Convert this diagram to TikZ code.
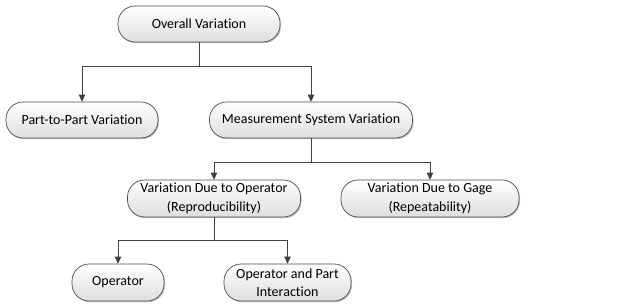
\documentclass[tikz,border=0pt]{standalone}
\usepackage{fontspec}
\setmainfont{Carlito}[Ligatures=NoCommon]
\usetikzlibrary{arrows.meta,shadows}
\begin{document}
\begin{tikzpicture}[x=1pt,y=-1pt,
  box/.style={draw=black!70, line width=0.7pt, rounded corners=17pt,
    top color=white, bottom color=black!13, minimum height=36pt,
    align=center, font=\fontsize{14}{18.5}\selectfont, inner sep=1pt,
    drop shadow={shadow xshift=1pt, shadow yshift=-1.2pt, opacity=0.25, fill=black}},
  conn/.style={draw=black!75, line width=0.9pt},
  arr/.style={conn, -{Triangle[length=7pt,width=6.5pt]}}]
\useasboundingbox (0,0) rectangle (621,305);
\node[box, minimum width=162pt] (ov) at (199,24) {Overall Variation};
\node[box, minimum width=152pt] (pp) at (82,120) {Part-to-Part Variation};
\node[box, minimum width=203pt] (ms) at (311,120) {Measurement System Variation};
\node[box, minimum width=173pt, minimum height=37pt] (op) at (214,198.5) {Variation Due to Operator\\(Reproducibility)};
\node[box, minimum width=178pt, minimum height=37pt] (ga) at (430,198.5) {Variation Due to Gage\\(Repeatability)};
\node[box, minimum width=92pt, minimum height=37pt] (o) at (118,282.5) {Operator};
\node[box, minimum width=127pt, minimum height=37pt] (oi) at (287.5,282.5) {Operator and Part\\Interaction};
\coordinate (j1) at (199,66);
\coordinate (j2) at (311,162);
\coordinate (j3) at (214,240);
\draw[conn] (ov.south) -- (j1);
\draw[arr] (j1) -| (pp.north);
\draw[arr] (j1) -| (ms.north);
\draw[conn] (ms.south) -- (j2);
\draw[arr] (j2) -| (op.north);
\draw[arr] (j2) -| (ga.north);
\draw[conn] (op.south) -- (j3);
\draw[arr] (j3) -| (o.north);
\draw[arr] (j3) -| (oi.north);
\end{tikzpicture}
\end{document}
